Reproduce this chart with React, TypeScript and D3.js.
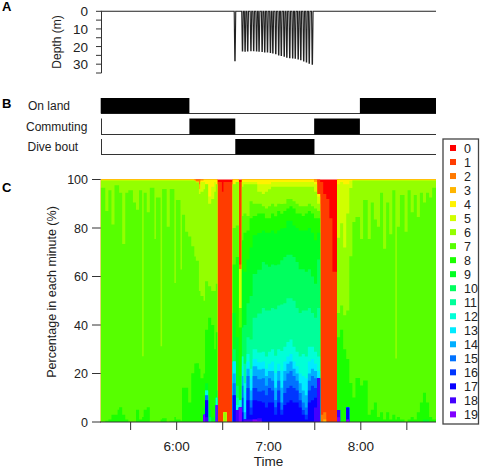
import React from "react";
import * as d3 from "d3";

const W = 481;
const H = 470;
const FONT = "'Liberation Sans', Arial, sans-serif";

// ---------- data ----------
const timeStart = 10.5; // minutes after 5:00
const timeEnd = 229;
const timeTicks = [30, 60, 90, 120, 150, 180, 210];
const labelledTicks: Record<number, string> = { 60: "6:00", 120: "7:00", 180: "8:00" };

const depthTicks = [0, 5, 10, 15, 20, 25, 30, 35];
const depthLabels = [0, 10, 20, 30];
const diveMinutes = [98, 102.9, 104.6, 106.3, 108.4, 110.2, 112.1, 113.7, 115.7, 117.4, 119.2, 121.1, 122.7, 124.6, 126.5, 128.2, 130.1, 131.8, 133.7, 135.6, 137.3, 139.2, 140.9, 142.8, 144.6, 146.4, 148.4];
const diveDepths = [28, 22.5, 22.6, 22.5, 22.4, 22.4, 22.5, 22.6, 22.8, 23, 23.1, 23.3, 23.6, 24, 24.7, 25, 25.4, 26, 26.3, 26.5, 26.6, 27, 27.4, 28.2, 28.8, 29.4, 30];

const onLand = [[10.5, 68.3], [179.4, 229]];
const commuting = [[68.3, 98.2], [149.6, 179.4]];
const diveBout = [[98.2, 149.8]];

const categories = d3.range(20);
const pctTicks = [0, 20, 40, 60, 80, 100];

// [duration in minutes, { category: percent }]
type Row = [number, Record<number, number>];

const landBefore: Row[] = [
  [3, { 7: 96, 6: 3, 4: 0.4 }],
  [2, { 8: 0.5, 7: 86, 6: 12.5, 4: 0.4 }],
  [2, { 8: 1, 7: 94, 6: 4, 4: 0.4 }],
  [2, { 8: 3, 7: 78, 6: 18, 4: 0.4 }],
  [2, { 8: 3, 7: 94, 6: 2, 4: 0.4 }],
  [1, { 8: 5, 7: 92, 6: 2, 4: 0.4 }],
  [2, { 8: 6, 7: 88, 6: 5, 4: 0.4 }],
  [2, { 8: 3, 7: 70, 6: 26, 4: 0.4 }],
  [2, { 8: 1, 7: 93, 6: 5, 4: 0.4 }],
  [3, { 7: 95, 6: 4, 4: 0.4 }],
  [2, { 7: 90, 6: 9, 4: 0.4 }],
  [2, { 8: 5, 7: 82, 6: 12, 4: 0.4 }],
  [2, { 8: 1, 7: 94, 6: 4, 4: 0.4 }],
  [1, { 8: 2, 7: 25, 6: 72, 4: 0.4 }],
  [2, { 8: 5, 7: 89, 6: 5, 4: 0.4 }],
  [2, { 8: 6, 7: 80, 6: 13, 4: 0.4 }],
  [3, { 7: 96, 6: 3, 4: 0.4 }],
  [1, { 7: 75, 6: 24, 4: 0.4 }],
  [3, { 7: 92, 6: 7, 4: 0.4 }],
  [1, { 8: 1, 7: 30, 6: 68, 4: 0.4 }],
  [3, { 8: 1.5, 7: 94, 6: 3.5, 4: 0.4 }],
  [2, { 7: 80, 6: 19, 4: 0.4 }],
  [3, { 8: 0.5, 7: 95, 6: 3.5, 4: 0.4 }],
  [1, { 8: 2, 7: 55, 6: 42, 4: 0.4 }],
  [3, { 8: 1, 7: 90, 6: 8, 4: 0.4 }],
  [1, { 8: 0.5, 7: 62, 6: 36.5, 4: 0.4 }],
  [2, { 8: 14, 7: 71, 6: 14, 4: 0.4 }],
  [2, { 8: 14, 7: 64, 6: 21, 4: 0.4 }],
  [2, { 8: 8, 7: 68, 6: 23, 4: 0.4 }],
  [2, { 8: 20, 7: 52, 6: 27, 4: 0.4 }],
  [1, { 8: 24, 7: 44, 6: 31, 3: 0.6 }],
  [2, { 8: 24, 7: 42, 6: 32, 3: 0.6, 2: 0.6 }],
  [1, { 8: 22, 7: 32, 6: 40, 5: 2, 3: 2, 2: 2 }],
  [2, { 8: 18, 7: 34, 6: 43, 5: 4, 4: 0.5, 3: 0.5 }],
  [1, { 19: 3, 9: 3, 8: 14, 7: 30, 6: 46, 5: 3, 4: 1 }],
  [2, { 18: 2, 17: 7, 15: 2, 12: 2, 9: 3, 8: 22, 7: 20, 6: 40, 4: 2 }],
  [2, { 10: 2, 9: 3, 8: 38, 7: 13, 6: 34, 5: 3, 4: 7 }],
  [2, { 9: 2, 8: 38, 7: 14, 6: 38, 5: 5, 4: 3 }],
  [1, { 8: 30, 7: 24, 6: 41, 5: 4, 4: 1 }],
  [1, { 19: 7, 12: 3, 9: 3, 8: 24, 7: 20, 6: 41, 4: 2 }],
];

const firstBand: Row[] = [
  [3, { 1: 99, 0: 1 }],
  [1, { 1: 95, 0: 5 }],
  [2, { 6: 4, 1: 95, 0: 1 }],
  [4, { 1: 99, 0: 1 }],
];

const bout: Row[] = [
  [2, { 17: 11, 15: 5, 14: 4, 13: 5, 10: 5, 9: 15, 8: 20, 7: 15, 6: 18, 4: 2 }],
  [2, { 18: 5, 12: 2, 11: 3, 10: 5, 9: 20, 8: 33, 7: 13, 6: 18, 4: 1 }],
  [2, { 19: 6, 12: 3, 9: 10, 8: 20, 7: 8, 5: 16, 2: 2, 1: 34, 0: 1 }],
  [1, { 17: 4, 16: 6, 15: 5, 14: 4, 13: 4, 12: 4, 10: 12, 9: 24, 8: 12, 7: 10, 6: 12, 5: 2, 4: 1 }],
  [2, { 18: 1, 14: 3, 13: 8, 12: 4, 11: 8, 10: 16, 9: 22, 8: 16, 7: 8, 6: 12, 5: 1, 4: 1 }],
  [2, { 18: 1, 17: 8, 16: 5, 15: 5, 14: 3, 13: 3, 12: 3, 11: 7, 10: 14, 9: 18, 8: 12, 7: 6, 6: 13, 5: 1, 4: 1 }],
  [2, { 18: 1, 17: 2, 16: 3, 15: 3, 14: 4, 13: 5, 12: 4, 11: 12, 10: 18, 9: 20, 8: 12, 7: 7, 6: 7, 5: 1, 4: 1 }],
  [3, { 19: 1, 17: 8, 16: 5, 15: 5, 14: 4, 13: 3, 12: 4, 11: 13, 10: 18, 9: 16, 8: 8, 7: 5, 6: 8, 5: 1, 4: 1 }],
  [3, { 19: 0.5, 18: 1, 17: 7, 16: 4, 15: 5, 14: 4, 13: 3, 12: 4, 11: 16, 10: 18, 9: 15, 8: 8, 7: 4, 6: 5, 5: 3, 4: 2 }],
  [2, { 17: 8, 16: 5, 15: 5, 14: 4, 13: 3, 12: 4, 11: 18, 10: 19, 9: 13, 8: 7, 7: 3, 6: 5, 5: 4, 4: 2 }],
  [2, { 17: 6, 16: 5, 15: 4, 14: 4, 13: 3, 12: 5, 11: 19, 10: 19, 9: 13, 8: 6, 7: 4, 6: 7, 5: 3, 4: 2 }],
  [2, { 17: 8, 16: 6, 15: 4, 14: 3, 13: 3, 12: 5, 11: 17, 10: 18, 9: 14, 8: 6, 7: 5, 6: 7, 5: 2, 4: 2 }],
  [2, { 17: 8, 16: 5, 15: 4, 14: 4, 13: 4, 12: 5, 11: 17, 10: 18, 9: 14, 8: 7, 7: 4, 6: 7, 5: 2, 4: 1 }],
  [2, { 17: 3, 16: 3, 15: 3, 14: 5, 13: 6, 12: 7, 11: 19, 10: 18, 9: 13, 8: 7, 7: 4, 6: 8, 5: 2, 4: 1 }],
  [2, { 17: 8, 16: 5, 15: 4, 14: 4, 13: 3, 12: 6, 11: 18, 10: 17, 9: 14, 8: 8, 7: 3, 6: 7, 5: 2, 4: 1 }],
  [2, { 17: 3, 16: 2, 15: 3, 14: 6, 13: 7, 12: 8, 11: 19, 10: 18, 9: 13, 8: 6, 7: 4, 6: 7, 5: 2, 4: 1 }],
  [2, { 17: 7, 16: 5, 15: 5, 14: 4, 13: 4, 12: 6, 11: 18, 10: 19, 9: 12, 8: 7, 7: 3, 6: 7, 5: 2, 4: 1 }],
  [2, { 17: 8, 16: 6, 15: 6, 14: 4, 13: 3, 12: 6, 11: 18, 10: 18, 9: 14, 8: 5, 7: 4, 6: 5, 5: 2, 4: 1 }],
  [2, { 17: 9, 16: 6, 15: 6, 14: 4, 13: 3, 12: 6, 11: 17, 10: 18, 9: 14, 8: 6, 7: 3, 6: 5, 5: 2, 4: 1 }],
  [2, { 17: 8, 16: 6, 15: 5, 14: 3, 13: 3, 12: 6, 11: 19, 10: 18, 9: 13, 8: 7, 7: 3, 6: 6, 5: 2, 4: 1 }],
  [2, { 17: 8, 16: 5, 15: 4, 14: 3, 13: 3, 12: 6, 11: 18, 10: 19, 9: 14, 8: 6, 7: 4, 6: 7, 5: 2, 4: 1 }],
  [2, { 17: 6, 16: 3, 15: 3, 14: 4, 13: 4, 12: 7, 11: 18, 10: 18, 9: 16, 8: 7, 7: 3, 6: 8, 5: 2, 4: 1 }],
  [2, { 17: 3, 16: 2, 15: 3, 14: 5, 13: 6, 12: 9, 11: 18, 10: 17, 9: 16, 8: 6, 7: 4, 6: 8, 5: 2, 4: 1 }],
  [2, { 17: 1, 16: 2, 15: 3, 14: 5, 13: 7, 12: 9, 11: 19, 10: 16, 9: 17, 8: 7, 7: 3, 6: 8, 5: 2, 4: 1 }],
  [2, { 17: 8, 16: 5, 15: 4, 14: 3, 13: 5, 12: 6, 11: 16, 10: 16, 9: 17, 8: 7, 7: 3, 6: 7, 5: 2, 4: 1 }],
  [2, { 17: 9, 16: 6, 15: 4, 14: 3, 13: 4, 12: 5, 11: 14, 10: 15, 9: 18, 8: 8, 7: 3, 6: 8, 5: 2, 4: 1 }],
  [2, { 18: 6, 17: 4, 16: 4, 15: 4, 14: 3, 13: 3, 12: 5, 11: 14, 10: 14, 9: 18, 8: 9, 7: 4, 6: 7, 5: 3, 4: 1, 3: 1 }],
  [2, { 18: 18, 13: 3, 12: 6, 11: 20, 10: 20, 9: 11, 8: 6, 7: 3, 6: 3, 5: 3, 4: 1, 1: 6 }],
];

const secondBand: Row[] = [
  [2, { 2: 3, 1: 96, 0: 1 }],
  [2, { 3: 1, 2: 3, 1: 90, 0: 6 }],
  [2, { 1: 92, 0: 8 }],
  [2, { 1: 84, 0: 16 }],
  [3, { 1: 62, 0: 38 }],
];

const landAfter: Row[] = [
  [2, { 19: 2, 18: 3, 8: 30, 7: 10, 6: 31, 5: 22, 4: 2 }],
  [2, { 8: 38, 7: 10, 6: 34, 5: 17, 4: 1 }],
  [2, { 8: 30, 7: 14, 6: 28, 5: 26, 4: 2 }],
  [2, { 19: 1, 17: 5, 8: 20, 7: 20, 6: 40, 5: 12, 4: 2 }],
  [2, { 8: 16, 7: 52, 6: 28, 5: 3, 4: 0.5 }],
  [2, { 8: 10, 7: 72, 6: 17, 4: 0.4 }],
  [3, { 8: 18, 7: 66, 6: 15, 4: 0.4 }],
  [2, { 8: 15, 7: 60, 6: 24, 4: 0.4 }],
  [3, { 8: 17, 7: 74, 6: 8, 4: 0.4 }],
  [2, { 8: 3, 7: 72, 6: 24, 4: 0.4 }],
  [2, { 8: 5, 7: 85, 6: 9, 4: 0.4 }],
  [2, { 8: 8, 7: 75, 6: 16, 4: 0.4 }],
  [2, { 8: 2, 7: 78, 6: 19, 4: 0.4 }],
  [2, { 8: 4, 7: 90, 6: 5, 4: 0.4 }],
  [2, { 8: 1, 7: 70, 6: 28, 4: 0.4 }],
  [2, { 8: 4, 7: 86, 6: 9, 4: 0.4 }],
  [2, { 8: 1, 7: 76, 6: 22, 4: 0.4 }],
  [2, { 8: 3, 7: 92, 6: 4, 4: 0.4 }],
  [1, { 8: 1, 7: 25, 6: 73, 4: 0.4 }],
  [2, { 8: 2, 7: 78, 6: 19, 4: 0.4 }],
  [3, { 8: 1, 7: 92, 6: 6, 4: 0.4 }],
  [2, { 7: 78, 6: 21, 4: 0.4 }],
  [2, { 8: 1, 7: 94, 6: 4, 4: 0.4 }],
  [2, { 8: 2, 7: 84, 6: 13, 4: 0.4 }],
  [2, { 8: 1, 7: 92, 6: 6, 4: 0.4 }],
  [2, { 8: 4, 7: 80, 6: 15, 4: 0.4 }],
  [2, { 8: 8, 7: 86, 6: 5, 4: 0.4 }],
  [2, { 9: 1, 8: 11, 7: 78, 6: 9, 4: 0.4 }],
  [2, { 9: 1, 8: 7, 7: 86, 6: 5, 4: 0.4 }],
  [2, { 8: 2, 7: 90, 6: 7, 4: 0.4 }],
  [3, { 8: 1, 7: 95, 6: 3, 4: 0.4 }],
  [2, { 7: 88, 6: 11, 4: 0.4 }],
  [3, { 8: 0.5, 7: 96, 6: 3, 4: 0.4 }],
  [4, { 7: 97, 6: 2.5, 4: 0.4 }],
];

const rows: Row[] = [...landBefore, ...firstBand, ...bout, ...secondBand, ...landAfter];

// ---------- scales ----------
const xScale = d3.scaleLinear().domain([timeStart, timeEnd]).range([100.7, 436]);
const depthY = d3.scaleLinear().domain([0, 35]).range([11.3, 73]);
const pctY = d3.scaleLinear().domain([0, 100]).range([422, 179.5]);
const colorOf = (c: number) => d3.hsl((c * 270) / 19, 1, 0.5).formatHex();

let t = timeStart;
const table = rows.map(([dur, vals]) => {
  const rec: Record<string, number> = { time: t };
  categories.forEach((c) => (rec[c] = vals[c] ?? 0));
  t += dur;
  return rec;
});
table.push({ ...table[table.length - 1], time: t });

const stackKeys = [...categories].reverse().map(String);
const layers = d3
  .stack<Record<string, number>>()
  .keys(stackKeys)
  .offset(d3.stackOffsetExpand)(table);

const layerArea = d3
  .area<d3.SeriesPoint<Record<string, number>>>()
  .x((d) => xScale(d.data.time))
  .y0(pctY(0))
  .y1((d) => pctY(d[1] * 100))
  .curve(d3.curveStepAfter);

const divePoints: [number, number][] = [[timeStart, 0]];
diveMinutes.forEach((m, i) => {
  divePoints.push([m - 0.5, 0], [m - 0.12, diveDepths[i]], [m + 0.12, diveDepths[i]], [m + 0.5, 0]);
});
divePoints.push([timeEnd, 0]);
const diveLine = d3
  .line<[number, number]>()
  .x((d) => xScale(d[0]))
  .y((d) => depthY(d[1]));

const minuteLabel = "Percentage in each minute (%)";

function Track({ label, spans, top, bottom, labelX, axis }: { label: string; spans: number[][]; top: number; bottom: number; labelX: number; axis: boolean }) {
  return (
    <g>
      <text x={labelX} y={(top + bottom) / 2 + 4.5} fontSize={12} fill="#222">{label}</text>
      {axis && <line x1={101.5} x2={101.5} y1={top} y2={bottom} stroke="#333" />}
      <line x1={101} x2={436} y1={bottom} y2={bottom} stroke="#333" />
      {spans.map(([a, b], i) => (
        <rect key={i} x={xScale(a)} y={top} width={xScale(b) - xScale(a)} height={bottom - top} fill="#000" />
      ))}
    </g>
  );
}

export default function App() {
  return (
    <svg width={W} height={H} style={{ position: "absolute", left: 0, top: 0, fontFamily: FONT }}>
      <defs>
        <clipPath id="plot">
          <rect x={100.7} y={179} width={335.3} height={243.5} />
        </clipPath>
      </defs>
      <rect width={W} height={H} fill="#fff" />

      {/* panel letters */}
      <text x={2} y={11} fontSize={13} fontWeight="bold">A</text>
      <text x={2} y={108} fontSize={13} fontWeight="bold">B</text>
      <text x={2} y={192} fontSize={13} fontWeight="bold">C</text>

      {/* Panel A */}
      <path d={diveLine(divePoints) ?? ""} fill="none" stroke="#222" strokeWidth={1.1} />
      <line x1={101.5} x2={101.5} y1={depthY(0)} y2={depthY(35)} stroke="#333" />
      {depthTicks.map((d) => (
        <line key={d} x1={96} x2={101.5} y1={depthY(d)} y2={depthY(d)} stroke="#333" />
      ))}
      {depthLabels.map((d) => (
        <text key={d} x={88} y={depthY(d) + 5} fontSize={13.5} textAnchor="end" fill="#222">{d}</text>
      ))}
      <text transform={`translate(61,42) rotate(-90)`} fontSize={12} textAnchor="middle" fill="#222">Depth (m)</text>

      {/* Panel B */}
      <Track label="On land" spans={onLand} top={98} bottom={113.5} labelX={28} axis={false} />
      <Track label="Commuting" spans={commuting} top={118.5} bottom={134.5} labelX={26} axis />
      <Track label="Dive bout" spans={diveBout} top={139} bottom={154.5} labelX={27.5} axis />

      {/* Panel C */}
      <g clipPath="url(#plot)">
        {[...layers].reverse().map((s) => (
          <path key={s.key} d={layerArea(s) ?? ""} fill={colorOf(+s.key)} />
        ))}
      </g>
      <line x1={100} x2={436} y1={422} y2={422} stroke="#333" />
      {timeTicks.map((m) => (
        <line key={m} x1={xScale(m)} x2={xScale(m)} y1={422} y2={430} stroke="#333" />
      ))}
      {timeTicks.filter((m) => labelledTicks[m]).map((m) => (
        <text key={m} x={xScale(m)} y={451} fontSize={13.5} textAnchor="middle" fill="#222">{labelledTicks[m]}</text>
      ))}
      <text x={268.5} y={466} fontSize={13.5} textAnchor="middle" fill="#222">Time</text>
      {pctTicks.map((p) => (
        <g key={p}>
          <line x1={92} x2={100.7} y1={pctY(p)} y2={pctY(p)} stroke="#333" />
          <text x={88} y={pctY(p) + 4.5} fontSize={12.5} textAnchor="end" fill="#222">{p}</text>
        </g>
      ))}
      <text transform={`translate(56,292) rotate(-90)`} fontSize={12.5} textAnchor="middle" fill="#222">{minuteLabel}</text>

      {/* Legend */}
      <rect x={443} y={139} width={35.5} height={285} fill="#fff" stroke="#444" strokeWidth={1.3} />
      {categories.map((c) => {
        const y = 148 + c * 14.02;
        return (
          <g key={c}>
            <rect x={450} y={y - 3} width={6} height={6} fill={colorOf(c)} />
            <text x={464} y={y + 4.5} fontSize={12.5} fill="#222">{c}</text>
          </g>
        );
      })}
    </svg>
  );
}
